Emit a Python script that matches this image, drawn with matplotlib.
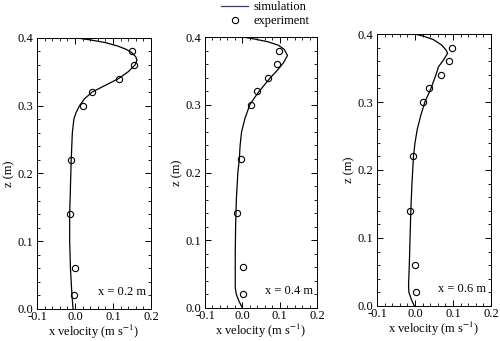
import matplotlib
matplotlib.use("Agg")
import matplotlib.pyplot as plt
from matplotlib.lines import Line2D
from matplotlib.ticker import MultipleLocator

plt.rcParams["font.family"] = ["Liberation Serif", "DejaVu Serif"]
plt.rcParams["mathtext.fontset"] = "stix"

# experiment heights (m)
z_exp = [0.38, 0.36, 0.34, 0.32, 0.30, 0.22, 0.14, 0.06, 0.02]

# experiment velocities at each station
u_exp_02 = [0.149, 0.155, 0.116, 0.046, 0.020, -0.011, -0.013, 0.000, -0.002]
u_exp_04 = [0.097, 0.093, 0.070, 0.039, 0.023, -0.004, -0.013, 0.001, 0.003]
u_exp_06 = [0.097, 0.090, 0.068, 0.036, 0.022, -0.006, -0.013, 0.000, 0.002]

# simulation profiles
z_sim_02 = [0.400, 0.397, 0.393, 0.388, 0.383, 0.378, 0.372, 0.367, 0.360, 0.350,
            0.340, 0.330, 0.320, 0.310, 0.300, 0.290, 0.280, 0.260, 0.220, 0.180,
            0.140, 0.100, 0.060, 0.040, 0.020, 0.000]
u_sim_02 = [0.003, 0.040, 0.080, 0.112, 0.135, 0.150, 0.160, 0.163, 0.158, 0.140,
            0.115, 0.080, 0.045, 0.025, 0.012, 0.003, -0.003, -0.007, -0.010, -0.012,
            -0.014, -0.014, -0.012, -0.010, -0.008, -0.005]

z_sim_04 = [0.400, 0.397, 0.393, 0.388, 0.382, 0.373, 0.362, 0.350, 0.340, 0.330,
            0.320, 0.310, 0.300, 0.280, 0.260, 0.240, 0.220, 0.200, 0.160, 0.120,
            0.080, 0.040, 0.030, 0.020, 0.010, 0.000]
u_sim_04 = [0.003, 0.035, 0.070, 0.097, 0.112, 0.121, 0.110, 0.092, 0.075, 0.060,
            0.045, 0.032, 0.020, 0.007, -0.002, -0.006, -0.008, -0.012, -0.016, -0.018,
            -0.019, -0.019, -0.019, -0.016, -0.009, 0.000]

z_sim_06 = [0.400, 0.397, 0.392, 0.384, 0.377, 0.372, 0.362, 0.352, 0.340, 0.320,
            0.300, 0.280, 0.260, 0.240, 0.220, 0.180, 0.140, 0.100, 0.060, 0.030,
            0.020, 0.010, 0.000]
u_sim_06 = [0.000, 0.022, 0.048, 0.070, 0.081, 0.086, 0.075, 0.062, 0.055, 0.042,
            0.026, 0.015, 0.006, 0.000, -0.004, -0.008, -0.011, -0.013, -0.015, -0.017,
            -0.016, -0.010, -0.002]

stations = ["x = 0.2 m", "x = 0.4 m", "x = 0.6 m"]
sims = [(u_sim_02, z_sim_02), (u_sim_04, z_sim_04), (u_sim_06, z_sim_06)]
exps = [u_exp_02, u_exp_04, u_exp_06]

fig = plt.figure(figsize=(5.0, 3.41), dpi=100)
rects = [
    [0.074, 0.094, 0.228, 0.795],
    [0.410, 0.097, 0.224, 0.794],
    [0.754, 0.103, 0.228, 0.797],
]

for rect, label, (us, zs), ue in zip(rects, stations, sims, exps):
    ax = fig.add_axes(rect)
    ax.plot(us, zs, color="black", lw=0.9)
    ax.plot(ue, z_exp, "o", mfc="none", mec="black", ms=4.5, mew=0.8)
    ax.set_xlim(-0.1, 0.2)
    ax.set_ylim(0.0, 0.4)
    ax.xaxis.set_major_locator(MultipleLocator(0.1))
    ax.xaxis.set_minor_locator(MultipleLocator(0.02))
    ax.yaxis.set_major_locator(MultipleLocator(0.1))
    ax.yaxis.set_minor_locator(MultipleLocator(0.02))
    ax.tick_params(which="both", direction="in", top=True, right=True,
                   labelsize=9)
    ax.tick_params(axis="x", pad=1.5)
    ax.tick_params(axis="y", pad=2.5)
    ax.tick_params(which="major", length=4, width=0.7)
    ax.tick_params(which="minor", length=2, width=0.6)
    ax.set_xticks([-0.1, 0.0, 0.1, 0.2])
    ax.set_xticklabels(["-0.1", "0.0", "0.1", "0.2"])
    ax.set_yticks([0.0, 0.1, 0.2, 0.3, 0.4])
    ax.set_yticklabels(["0.0", "0.1", "0.2", "0.3", "0.4"])
    for s in ax.spines.values():
        s.set_linewidth(0.7)
    ax.set_xlabel("x velocity (m s$^{-1}$)", fontsize=9, labelpad=0)
    ax.set_ylabel("z (m)", fontsize=9, labelpad=1.5)
    ax.text(0.96, 0.04, label, transform=ax.transAxes, ha="right", va="bottom",
            fontsize=9)

handles = [
    Line2D([], [], color="#3a3a6a", lw=0.9),
    Line2D([], [], ls="none", marker="o", mfc="none", mec="black", ms=4.5, mew=0.8),
]
fig.legend(handles, ["simulation", "experiment"], loc="upper center",
           bbox_to_anchor=(0.53, 1.03), frameon=False, fontsize=9,
           handlelength=2.2, handletextpad=0.4, labelspacing=0.15)

fig.savefig("out.png", dpi=100)
